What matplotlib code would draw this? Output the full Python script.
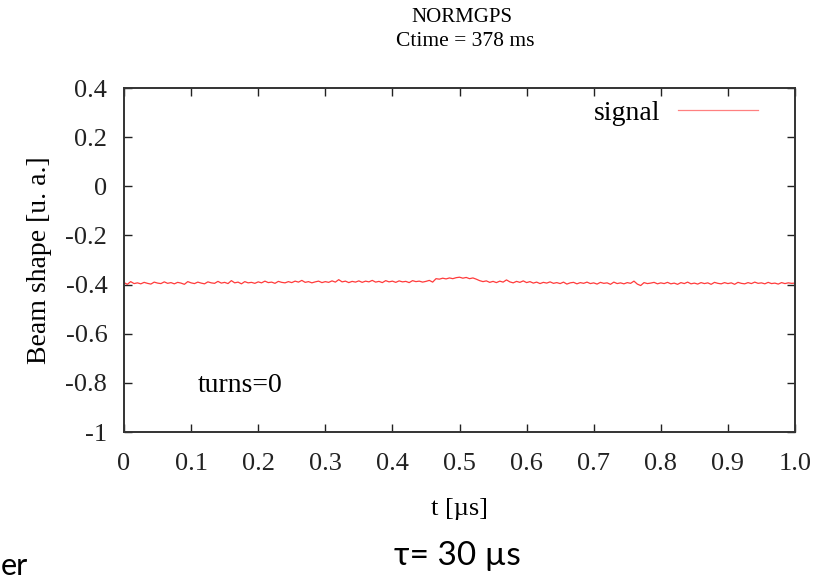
import numpy as np
import matplotlib
matplotlib.use('Agg')
from matplotlib import pyplot as plt

# time axis [us], one sample every 5 ns
t = np.linspace(0.0, 1.0, 201)

# beam shape, rows of 10 samples
signal = [
    -0.392, -0.399, -0.388, -0.396, -0.393, -0.397, -0.391, -0.395, -0.398, -0.390,
    -0.394, -0.396, -0.389, -0.395, -0.392, -0.397, -0.391, -0.394, -0.399, -0.388,
    -0.393, -0.396, -0.390, -0.394, -0.397, -0.389, -0.393, -0.395, -0.387, -0.394,
    -0.391, -0.396, -0.384, -0.393, -0.390, -0.397, -0.388, -0.393, -0.391, -0.395,
    -0.389, -0.393, -0.386, -0.392, -0.390, -0.395, -0.387, -0.391, -0.393, -0.388,
    -0.392, -0.386, -0.390, -0.383, -0.391, -0.388, -0.393, -0.389, -0.386, -0.392,
    -0.388, -0.391, -0.385, -0.390, -0.380, -0.389, -0.386, -0.392, -0.387, -0.390,
    -0.385, -0.391, -0.386, -0.389, -0.383, -0.390, -0.387, -0.392, -0.384, -0.389,
    -0.386, -0.391, -0.385, -0.389, -0.387, -0.392, -0.384, -0.388, -0.386, -0.390,
    -0.387, -0.383, -0.390, -0.376, -0.378, -0.374, -0.377, -0.373, -0.376, -0.372,
    -0.370, -0.374, -0.371, -0.376, -0.373, -0.378, -0.384, -0.388, -0.385, -0.391,
    -0.387, -0.392, -0.386, -0.390, -0.381, -0.389, -0.393, -0.387, -0.391, -0.385,
    -0.392, -0.388, -0.394, -0.390, -0.396, -0.391, -0.394, -0.389, -0.395, -0.392,
    -0.396, -0.390, -0.398, -0.393, -0.391, -0.397, -0.392, -0.395, -0.390, -0.396,
    -0.393, -0.398, -0.391, -0.395, -0.393, -0.399, -0.390, -0.396, -0.393, -0.397,
    -0.392, -0.395, -0.386, -0.398, -0.404, -0.392, -0.396, -0.394, -0.391, -0.397,
    -0.393, -0.396, -0.391, -0.397, -0.394, -0.399, -0.392, -0.396, -0.390, -0.397,
    -0.394, -0.398, -0.392, -0.396, -0.393, -0.399, -0.391, -0.395, -0.397, -0.392,
    -0.396, -0.393, -0.399, -0.391, -0.395, -0.397, -0.392, -0.396, -0.390, -0.395,
    -0.393, -0.397, -0.391, -0.396, -0.394, -0.398, -0.392, -0.396, -0.393, -0.395,
    -0.394,
]

xticks = [0.0, 0.1, 0.2, 0.3, 0.4, 0.5, 0.6, 0.7, 0.8, 0.9, 1.0]
xticklabels = ['0', '0.1', '0.2', '0.3', '0.4', '0.5', '0.6', '0.7', '0.8', '0.9', '1.0']
yticks = [-1.0, -0.8, -0.6, -0.4, -0.2, 0.0, 0.2, 0.4]
yticklabels = ['-1', '-0.8', '-0.6', '-0.4', '-0.2', '0', '0.2', '0.4']

plt.rcParams['font.family'] = ['Liberation Serif', 'DejaVu Serif']

W, H = 827, 582
fig = plt.figure(figsize=(W / 100, H / 100), dpi=100)
ax = fig.add_axes([124 / W, 1 - 432 / H, (795 - 124) / W, (432 - 88) / H])

ax.plot(t, signal, color='#ff3b3b', lw=0.9, label='signal')
ax.set_xlim(0, 1)
ax.set_ylim(-1, 0.4)
ax.set_xticks(xticks)
ax.set_xticklabels(xticklabels)
ax.set_yticks(yticks)
ax.set_yticklabels(yticklabels)
ax.tick_params(direction='in', length=6, width=1, top=True, right=True,
               labelsize=19, colors='#222222')
ax.tick_params(axis='y', pad=12)
ax.tick_params(axis='x', pad=15)
for s in ax.spines.values():
    s.set_linewidth(1.4)
    s.set_color('#333333')

ax.set_xlabel('t [µs]', fontsize=19, labelpad=17)
ax.set_ylabel('Beam shape [u. a.]', fontsize=20, labelpad=10)
ax.text(0.11, -0.81, 'turns=0', fontsize=20, va='center')

# legend: line ends ~37 px left of the right spine, ~25 px below the top
leg = ax.legend(loc='center right', bbox_to_anchor=(0.945, 0.927), frameon=False,
                markerfirst=False, fontsize=20, handlelength=2.9, handletextpad=0.6,
                borderaxespad=0.0, borderpad=0.0)
for h in leg.get_lines():
    h.set_color('#ff8080')

fig.text(462 / W, 1 - 18 / H, 'NORMGPS', ha='center', va='center', fontsize=15)
fig.text(465 / W, 1 - 42 / H, 'Ctime = 378 ms', ha='center', va='center', fontsize=15.5)

fig.text(457 / W, 1 - 556 / H, 'τ= 30 µs', ha='center', va='center', fontsize=24,
         family=['Lato', 'DejaVu Sans'])
fig.text(1 / W, 1 - 566 / H, 'er', ha='left', va='center', fontsize=22,
         family=['Lato', 'DejaVu Sans'])

fig.savefig('out.png', dpi=100)
